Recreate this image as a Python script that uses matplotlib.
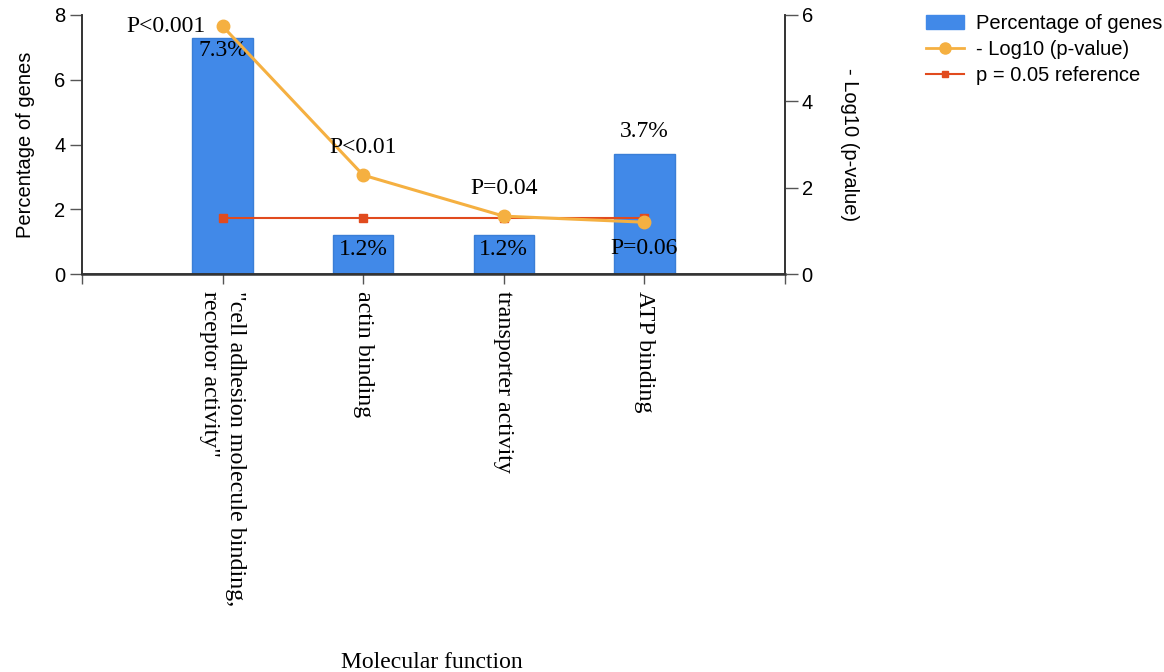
import numpy as np
import matplotlib.pyplot as plt
from matplotlib.patches import Patch
from matplotlib.lines import Line2D

categories = ['"cell adhesion molecule binding,\nreceptor activity"', 'actin binding',
              'transporter activity', 'ATP binding']
pct = [7.3, 1.2, 1.2, 3.7]
neglog = [5.74, 2.29, 1.34, 1.2]
ref = [1.3, 1.3, 1.3, 1.3]
p_labels = ['P<0.001', 'P<0.01', 'P=0.04', 'P=0.06']

bar_c = '#4189E8'
line_c = '#F5B041'
ref_c = '#E14B1E'
serif = 'Liberation Serif'
sans = 'Liberation Sans'

fig = plt.figure(figsize=(11.64, 6.72), dpi=100)
ax = fig.add_axes([82/1164, 1-274/672, (785-82)/1164, (274-15)/672])
ax2 = ax.twinx()

x = np.arange(len(categories))
ax.bar(x, pct, width=0.43, color=bar_c, edgecolor='#3A7ED6', linewidth=1, zorder=2)
ax.set_xlim(-1, 4)
ax.set_ylim(0, 8)
ax.set_yticks([0, 2, 4, 6, 8])
ax2.set_ylim(0, 6)
ax2.set_yticks([0, 2, 4, 6])

ax2.plot(x, ref, color=ref_c, marker='s', markersize=6, linewidth=1.5, zorder=3)
ax2.plot(x, neglog, color=line_c, marker='o', markersize=9, linewidth=2.2, zorder=4)

for a in (ax, ax2):
    a.spines['top'].set_visible(False)
    for s in a.spines.values():
        s.set_color('#333333')
        s.set_linewidth(1.2)
    a.tick_params(axis='y', length=9, width=1, color='#555555', labelsize=14.5, pad=3)
    for t in a.get_yticklabels():
        t.set_fontfamily(sans)
ax.spines['bottom'].set_linewidth(1.8)

ax.set_xticks(x)
ax.set_xticklabels(categories, rotation=270, fontsize=17.3, family=serif, ha='center', va='top',
                   linespacing=1.3)
for t in ax.get_xticklabels():
    t.set_multialignment('left')
ax.set_xticks([-1, 4], minor=True)
ax.tick_params(axis='x', which='both', length=7, width=1, color='#555555', pad=5)

ax.set_ylabel('Percentage of genes', fontsize=14.5, family=sans, labelpad=14)
ax2.set_ylabel('- Log10 (p-value)', fontsize=14.5, family=sans, rotation=270, labelpad=33)
fig.text(432/1164, 1-662/672, 'Molecular function', fontsize=17, family=serif, ha='center', va='center')

# bar labels
for i, v in enumerate(pct):
    if v > 3 and i == 0:
        ax.annotate('%.1f%%' % v, (x[i], v), xytext=(0, -9), textcoords='offset points',
                    ha='center', va='center', fontsize=17, family=serif)
    elif v > 3:
        ax.annotate('%.1f%%' % v, (x[i], v), xytext=(0, 16), textcoords='offset points',
                    ha='center', va='center', fontsize=17, family=serif)
    else:
        ax.annotate('%.1f%%' % v, (x[i], v), xytext=(0, -10), textcoords='offset points',
                    ha='center', va='center', fontsize=17, family=serif)

# p-value labels
offs = [(-12, 0, 'right'), (0, 20, 'center'), (0, 20, 'center'), (0, -19, 'center')]
for i, lab in enumerate(p_labels):
    dx, dy, ha = offs[i]
    ax2.annotate(lab, (x[i], neglog[i]), xytext=(dx, dy), textcoords='offset points',
                 ha=ha, va='center', fontsize=17, family=serif, zorder=5)

handles = [Patch(color=bar_c),
           Line2D([], [], color=line_c, marker='o', markersize=8, linewidth=2),
           Line2D([], [], color=ref_c, marker='s', markersize=5, linewidth=1.5)]
fig.legend(handles, ['Percentage of genes', '- Log10 (p-value)', 'p = 0.05 reference'],
           loc='upper left', bbox_to_anchor=(918/1164, 1-6/672), frameon=False,
           prop={'family': sans, 'size': 14.5}, handlelength=1.9, handletextpad=0.6,
           labelspacing=0.35, borderaxespad=0)

plt.savefig('out.png', dpi=100)
